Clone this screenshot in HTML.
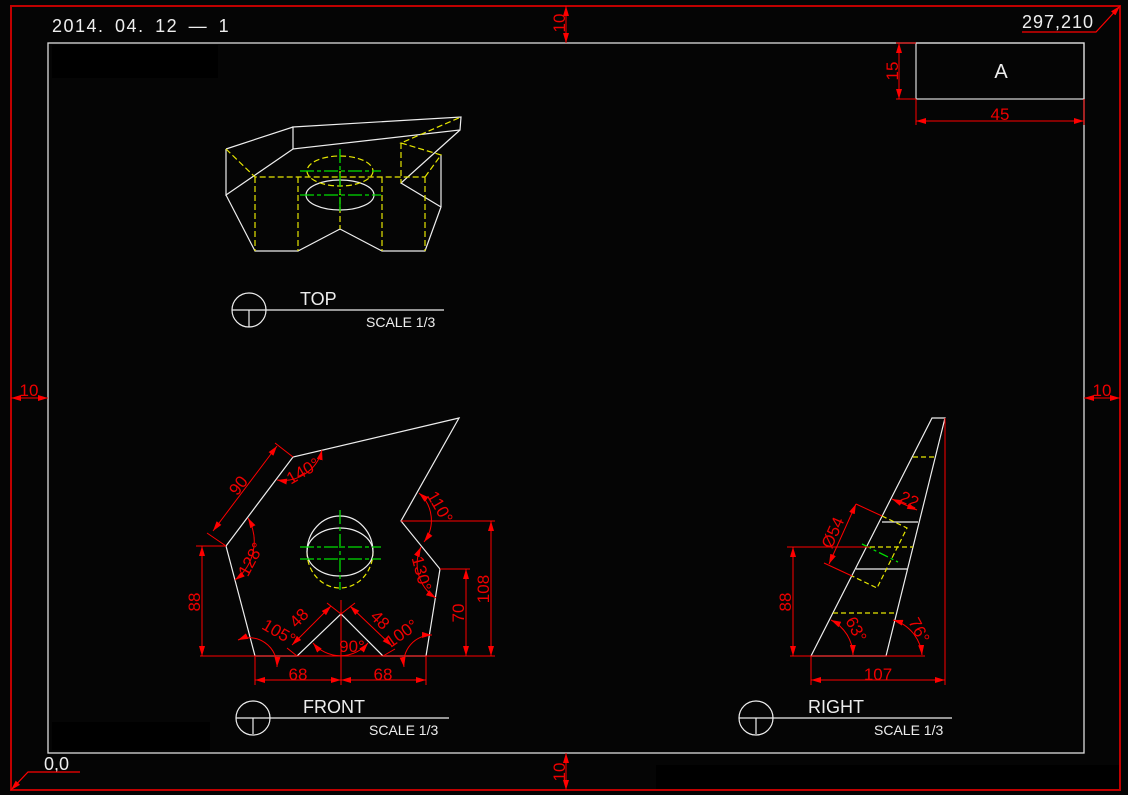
<!DOCTYPE html>
<html><head><meta charset="utf-8"><style>
html,body{margin:0;padding:0;background:#050505;}
svg{display:block}
text{font-family:"Liberation Sans",sans-serif;}
</style></head><body>
<svg width="1128" height="795" viewBox="0 0 1128 795" xmlns="http://www.w3.org/2000/svg">
<defs>
<marker id="ar" viewBox="0 0 10 6" refX="10" refY="3" markerWidth="10" markerHeight="6" orient="auto-start-reverse" markerUnits="userSpaceOnUse"><path d="M0,0L10,3L0,6z" fill="#f00"/></marker>
</defs>
<rect width="1128" height="795" fill="#050505"/>
<rect x="52" y="45" width="166" height="33" fill="#000"/>
<rect x="52" y="722" width="158" height="28" fill="#000"/>
<rect x="656" y="765" width="464" height="24" fill="#000"/>
<!-- borders -->
<rect x="11" y="6" width="1109" height="784" fill="none" stroke="#c00000" stroke-width="2"/>
<rect x="48" y="43" width="1036" height="710" fill="none" stroke="#ddd" stroke-width="1.3"/>
<g fill="#e00" font-size="17">
<line x1="566" y1="6" x2="566" y2="43" stroke="#f00" marker-start="url(#ar)" marker-end="url(#ar)"/>
<text transform="translate(565,23) rotate(-90)" text-anchor="middle">10</text>
<line x1="566" y1="753" x2="566" y2="790" stroke="#f00" marker-start="url(#ar)" marker-end="url(#ar)"/>
<text transform="translate(565,772) rotate(-90)" text-anchor="middle">10</text>
<line x1="11" y1="398" x2="48" y2="398" stroke="#f00" marker-start="url(#ar)" marker-end="url(#ar)"/>
<text x="29" y="396" text-anchor="middle">10</text>
<line x1="1084" y1="398" x2="1120" y2="398" stroke="#f00" marker-start="url(#ar)" marker-end="url(#ar)"/>
<text x="1102" y="396" text-anchor="middle">10</text>
</g>
<g fill="#eee" font-size="18">
<text x="52" y="32" letter-spacing="1.5" word-spacing="4">2014. 04. 12 — 1</text>
<text x="1022" y="28" letter-spacing="1">297,210</text>
<text x="44" y="770">0,0</text>
</g>
<path d="M1022,32H1096L1120,6" fill="none" stroke="#f00" stroke-width="1.2" marker-end="url(#ar)"/>
<path d="M80,772H28L11,790" fill="none" stroke="#f00" stroke-width="1.2" marker-end="url(#ar)"/>
<!-- title block -->
<rect x="916" y="43" width="168" height="56" fill="none" stroke="#ddd" stroke-width="1.2"/>
<text x="1001" y="78" fill="#eee" font-size="20" text-anchor="middle">A</text>
<g stroke="#f00" stroke-width="1">
<line x1="899" y1="43" x2="899" y2="99" marker-start="url(#ar)" marker-end="url(#ar)"/>
<line x1="896" y1="43" x2="916" y2="43"/><line x1="896" y1="99" x2="916" y2="99"/>
<line x1="916" y1="121" x2="1084" y2="121" marker-start="url(#ar)" marker-end="url(#ar)"/>
<line x1="916" y1="99" x2="916" y2="125"/><line x1="1084" y1="99" x2="1084" y2="125"/>
</g>
<text x="1000" y="120" fill="#e00" font-size="17" text-anchor="middle">45</text>
<text transform="translate(898,71) rotate(-90)" fill="#e00" font-size="17" text-anchor="middle">15</text>

<!-- TOP view -->
<g fill="none" stroke="#eee" stroke-width="1.2">
<path d="M293,127L461,117L460,130L293,149Z"/>
<path d="M226,149L293,127M226,149V195L293,149M226,195L255,251H298L340,229L382,251H425L441,207V155M441,207L401,183L460,130"/>
<ellipse cx="340" cy="195" rx="34" ry="15"/>
</g>
<g fill="none" stroke="#e6e600" stroke-width="1.2" stroke-dasharray="6,3">
<path d="M226,149L255,177H425M255,177V251M298,177V251M382,177V251M425,177V251M340,171V229M425,177L441,155L401,143L461,117M401,143V183"/>
<ellipse cx="340" cy="171" rx="33" ry="15"/>
</g>
<g stroke="#0d0" stroke-width="1.3" stroke-dasharray="14,3,4,3">
<line x1="300" y1="171" x2="381" y2="171"/><line x1="300" y1="195" x2="381" y2="195"/><line x1="340" y1="149" x2="340" y2="212"/>
</g>
<!-- view labels -->
<g fill="none" stroke="#eee" stroke-width="1.2">
<circle cx="249" cy="310" r="17"/><path d="M232,310H444M249,310V327"/>
<circle cx="253" cy="718" r="17"/><path d="M236,718H449M253,718V734"/>
<circle cx="756" cy="718" r="17"/><path d="M739,718H952M756,718V734"/>
</g>
<g fill="#eee">
<text x="300" y="305" font-size="18">TOP</text><text x="366" y="327" font-size="14">SCALE 1/3</text>
<text x="303" y="713" font-size="18">FRONT</text><text x="369" y="735" font-size="14">SCALE 1/3</text>
<text x="808" y="713" font-size="18">RIGHT</text><text x="874" y="735" font-size="14">SCALE 1/3</text>
</g>

<!-- FRONT view -->
<path d="M459,418L293,457L226,546L255,656H297L341,614L383,656H426L440,569L401,521Z" fill="none" stroke="#eee" stroke-width="1.2"/>
<path d="M307,552A33,36 0 0 1 373,552" fill="none" stroke="#eee" stroke-width="1.2"/>
<path d="M307,552A33,36 0 0 0 373,552" fill="none" stroke="#e6e600" stroke-width="1.2" stroke-dasharray="5,3"/>
<ellipse cx="340" cy="552" rx="33" ry="24" fill="none" stroke="#eee" stroke-width="1.2"/>
<g stroke="#0d0" stroke-width="1.3" stroke-dasharray="14,3,4,3">
<line x1="300" y1="547" x2="381" y2="547"/><line x1="300" y1="559" x2="381" y2="559"/><line x1="340" y1="510" x2="340" y2="590"/>
</g>
<g fill="none" stroke="#f00" stroke-width="1">
<path d="M200,656H495M341,600V685M255,656V685M426,656V685"/>
<line x1="255" y1="680" x2="341" y2="680" marker-start="url(#ar)" marker-end="url(#ar)"/>
<line x1="341" y1="680" x2="426" y2="680" marker-start="url(#ar)" marker-end="url(#ar)"/>
<path d="M196,546H226"/>
<line x1="202" y1="546" x2="202" y2="656" marker-start="url(#ar)" marker-end="url(#ar)"/>
<path d="M401,521H495"/>
<line x1="491" y1="521" x2="491" y2="656" marker-start="url(#ar)" marker-end="url(#ar)"/>
<path d="M440,569H470"/>
<line x1="466" y1="569" x2="466" y2="656" marker-start="url(#ar)" marker-end="url(#ar)"/>
<path d="M207,533L226,546M275,443L293,457"/>
<line x1="213" y1="531" x2="277" y2="446" marker-start="url(#ar)" marker-end="url(#ar)"/>
<path d="M287,648L297,656M327,603L341,614M355,603L341,614M395,649L383,656"/>
<line x1="292" y1="645" x2="331" y2="606" marker-start="url(#ar)" marker-end="url(#ar)"/>
<line x1="350" y1="606" x2="392" y2="646" marker-start="url(#ar)" marker-end="url(#ar)"/>
<path d="M277,480A40,40 0 0 0 322,450" marker-start="url(#ar)" marker-end="url(#ar)"/>
<path d="M248,518A48,48 0 0 1 235,580" marker-start="url(#ar)" marker-end="url(#ar)"/>
<path d="M238,640A28,28 0 0 1 277,667" marker-start="url(#ar)" marker-end="url(#ar)"/>
<path d="M313,643A36,36 0 0 0 368,643" marker-start="url(#ar)" marker-end="url(#ar)"/>
<path d="M404,667A28,28 0 0 1 432,635" marker-start="url(#ar)" marker-end="url(#ar)"/>
<path d="M419,493A36,36 0 0 1 424,542" marker-start="url(#ar)" marker-end="url(#ar)"/>
<path d="M421,547A40,40 0 0 0 436,598" marker-start="url(#ar)" marker-end="url(#ar)"/>
</g>
<g fill="#e00" font-size="17" text-anchor="middle">
<text x="298" y="680">68</text><text x="383" y="680">68</text>
<text transform="translate(200,602) rotate(-90)">88</text>
<text transform="translate(489,589) rotate(-90)">108</text>
<text transform="translate(464,613) rotate(-90)">70</text>
<text transform="translate(243,489) rotate(-53)">90</text>
<text transform="translate(303,622) rotate(-45)">48</text>
<text transform="translate(376,624) rotate(45)">48</text>
<text transform="translate(306,476) rotate(-30)">140°</text>
<text transform="translate(256,562) rotate(-62)">128°</text>
<text transform="translate(276,637) rotate(30)">105°</text>
<text transform="translate(352,652)">90°</text>
<text transform="translate(405,638) rotate(-35)">100°</text>
<text transform="translate(435,510) rotate(60)">110°</text>
<text transform="translate(416,575) rotate(75)">130°</text>
</g>

<!-- RIGHT view -->
<path d="M932,418H945L886,656H811Z" fill="none" stroke="#eee" stroke-width="1.2"/>
<path d="M882,522H918M856,569H907" stroke="#eee" stroke-width="1.2"/>
<g fill="none" stroke="#e6e600" stroke-width="1.2" stroke-dasharray="5,3">
<path d="M913,457H936M833,613H897M870,547H913M882,516L907,528L877,588L852,576"/>
</g>
<line x1="862" y1="544" x2="898" y2="562" stroke="#0d0" stroke-width="1.3" stroke-dasharray="10,3,3,3"/>
<g fill="none" stroke="#f00" stroke-width="1">
<path d="M945,418V685M811,656V685M790,656H925M787,547H870"/>
<line x1="811" y1="680" x2="945" y2="680" marker-start="url(#ar)" marker-end="url(#ar)"/>
<line x1="793" y1="547" x2="793" y2="656" marker-start="url(#ar)" marker-end="url(#ar)"/>
<path d="M856,504L882,516M824,563L852,576"/>
<line x1="856" y1="504" x2="829" y2="564" marker-start="url(#ar)" marker-end="url(#ar)"/>
<line x1="892" y1="499" x2="917" y2="510" marker-start="url(#ar)" marker-end="url(#ar)"/>
<path d="M831,620A40,40 0 0 1 853,655" marker-start="url(#ar)" marker-end="url(#ar)"/>
<path d="M893,620A40,40 0 0 1 922,655" marker-start="url(#ar)" marker-end="url(#ar)"/>
</g>
<g fill="#e00" font-size="17" text-anchor="middle">
<text x="878" y="680">107</text>
<text transform="translate(791,602) rotate(-90)">88</text>
<text transform="translate(838,535) rotate(-66)">Ø54</text>
<text transform="translate(907,505) rotate(24)">22</text>
<text transform="translate(851,632) rotate(62)">63°</text>
<text transform="translate(914,633) rotate(62)">76°</text>
</g>
</svg>
</body></html>
